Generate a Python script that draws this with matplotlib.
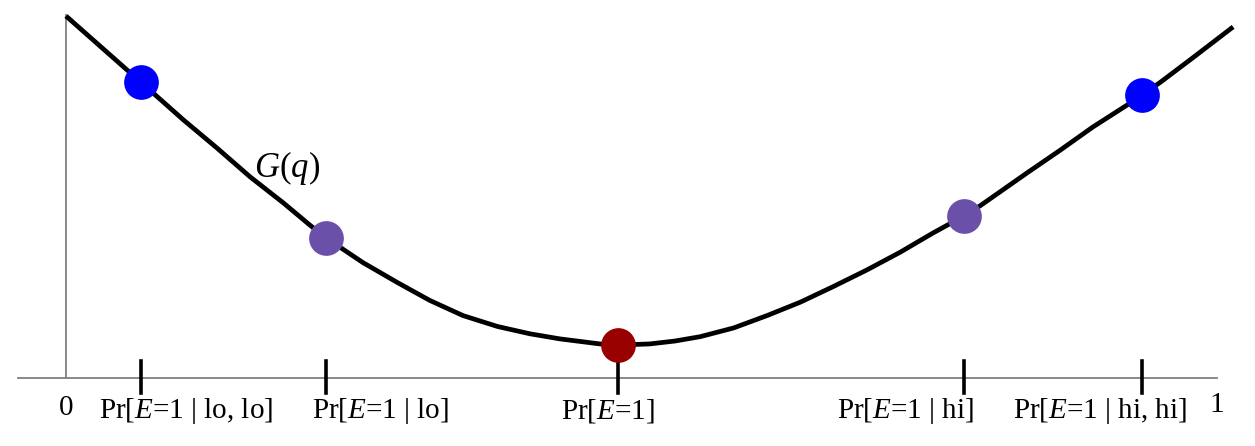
import matplotlib
matplotlib.use("Agg")
import matplotlib.pyplot as plt

plt.rcParams["font.family"] = "Liberation Serif"
plt.rcParams["mathtext.fontset"] = "custom"
plt.rcParams["mathtext.rm"] = "Liberation Serif"
plt.rcParams["mathtext.it"] = "Liberation Serif:italic"

# curve G(q)
curve_q = [0.000, 0.065, 0.102, 0.131, 0.160, 0.189, 0.212, 0.226, 0.258, 0.288,
           0.316, 0.345, 0.375, 0.403, 0.429, 0.464, 0.480, 0.507, 0.529, 0.551,
           0.580, 0.609, 0.638, 0.666, 0.696, 0.725, 0.753, 0.780, 0.794, 0.835,
           0.864, 0.892, 0.922, 0.935, 0.951, 0.979, 1.014]
curve_g = [0.997, 0.815, 0.711, 0.634, 0.554, 0.482, 0.421, 0.386, 0.318, 0.263,
           0.214, 0.172, 0.142, 0.122, 0.108, 0.094, 0.091, 0.094, 0.102, 0.114,
           0.138, 0.172, 0.209, 0.251, 0.298, 0.347, 0.399, 0.446, 0.474, 0.565,
           0.628, 0.691, 0.752, 0.780, 0.815, 0.882, 0.967]

# marked points
point_q = [0.065, 0.226, 0.480, 0.780, 0.935]
point_g = [0.815, 0.386, 0.091, 0.446, 0.780]
point_colors = ["#0000ff", "#6a50a8", "#990000", "#6a50a8", "#0000ff"]
point_labels = ["Pr[$E$=1 | lo, lo]", "Pr[$E$=1 | lo]", "Pr[$E$=1]",
                "Pr[$E$=1 | hi]", "Pr[$E$=1 | hi, hi]"]
label_x = [0.104, 0.273, 0.471, 0.729, 0.898]

fig = plt.figure(figsize=(12.55, 4.46), dpi=100, facecolor="white")
ax = fig.add_axes([0, 0, 1, 1])
ax.set_xlim(-0.0573, 1.033)
ax.set_ylim(-0.187, 1.041)
ax.axis("off")

# axis lines
ax.plot([-0.0417, 1.0], [0, 0], color="#808080", lw=1.3, zorder=1)
ax.plot([0, 0], [0, 1.0], color="#808080", lw=1.3, zorder=1)

# tick marks
for q in point_q:
    ax.plot([q, q], [-0.041, 0.047], color="black", lw=2.6, zorder=2)

ax.plot(curve_q, curve_g, color="black", lw=3.4, solid_joinstyle="round",
        solid_capstyle="butt", zorder=3)

for q, g, c in zip(point_q, point_g, point_colors):
    ax.plot(q, g, "o", color=c, markersize=25, markeredgewidth=0, zorder=4)

for x, lab in zip(label_x, point_labels):
    ax.text(x, -0.09, lab, ha="center", va="center", fontsize=21)

ax.text(0, -0.082, "0", ha="center", va="center", fontsize=21)
ax.text(1.0, -0.075, "1", ha="center", va="center", fontsize=21)
ax.text(0.192, 0.579, "$G(q)$", ha="center", va="center", fontsize=25)

fig.savefig("out.png", dpi=100, facecolor="white")
